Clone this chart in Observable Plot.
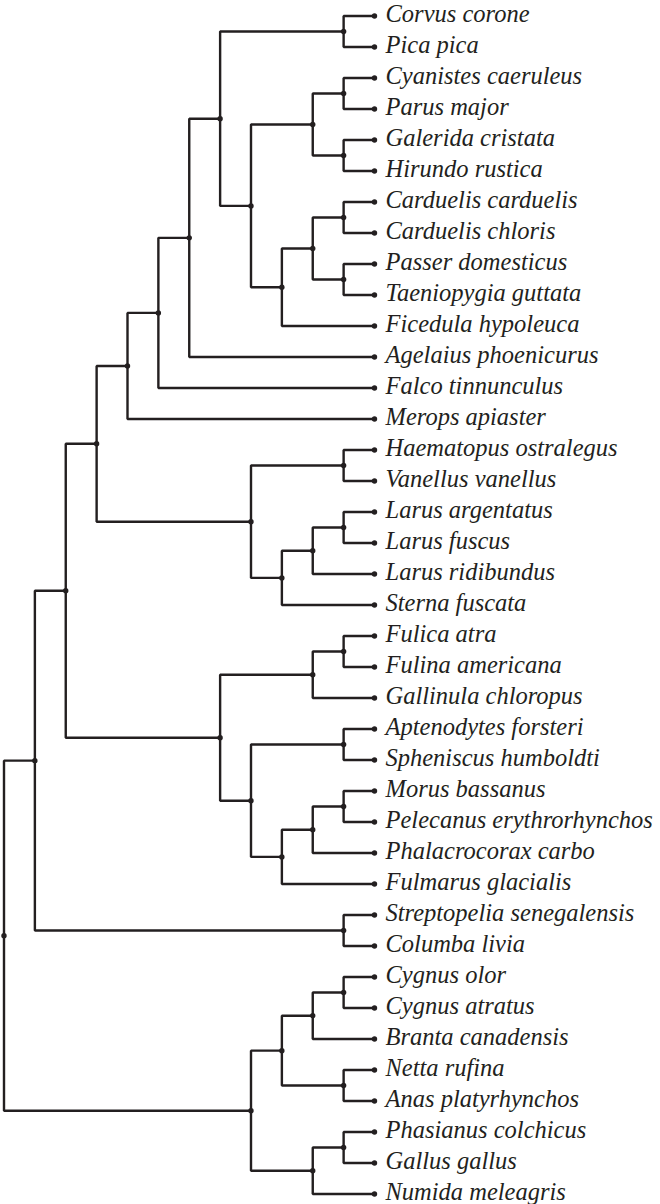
<!DOCTYPE html>
<html>
<head>
<meta charset="utf-8">
<script src="https://cdn.jsdelivr.net/npm/d3@7"></script>
<script src="https://cdn.jsdelivr.net/npm/@observablehq/plot@0.6"></script>
<style>
  html, body { margin: 0; padding: 0; background: #fff; }
  #chart svg { display: block; }
</style>
</head>
<body>
<div id="chart"></div>
<script>
// Tree topology (nested clades), leaves in plotted order top→bottom
const passerines = [
  ["Corvus corone", "Pica pica"],
  [
    [["Cyanistes caeruleus", "Parus major"], ["Galerida cristata", "Hirundo rustica"]],
    [[["Carduelis carduelis", "Carduelis chloris"], ["Passer domesticus", "Taeniopygia guttata"]], "Ficedula hypoleuca"]
  ]
];
const landbirds = [[[passerines, "Agelaius phoenicurus"], "Falco tinnunculus"], "Merops apiaster"];
const shorebirds = [
  ["Haematopus ostralegus", "Vanellus vanellus"],
  [[["Larus argentatus", "Larus fuscus"], "Larus ridibundus"], "Sterna fuscata"]
];
const waterbirds = [
  [["Fulica atra", "Fulina americana"], "Gallinula chloropus"],
  [["Aptenodytes forsteri", "Spheniscus humboldti"],
   [[["Morus bassanus", "Pelecanus erythrorhynchos"], "Phalacrocorax carbo"], "Fulmarus glacialis"]]
];
const pigeons = ["Streptopelia senegalensis", "Columba livia"];
const galloanserae = [
  [[["Cygnus olor", "Cygnus atratus"], "Branta canadensis"], ["Netta rufina", "Anas platyrhynchos"]],
  [["Phasianus colchicus", "Gallus gallus"], "Numida meleagris"]
];
const tree = [[[[landbirds, shorebirds], waterbirds], pigeons], galloanserae];

// Layout: x = height above leaves, y = leaf index; internal y = midpoint of children
const root = d3.hierarchy(tree, d => Array.isArray(d) ? d : null);
let leafIndex = 0;
root.eachAfter(n => {
  if (!n.children) { n.yy = leafIndex++; }
  else { n.yy = (n.children[0].yy + n.children[n.children.length - 1].yy) / 2; }
});
const nodes = root.descendants().map((n, i) => ({id: i, h: n.height, y: n.yy, leaf: !n.children, name: n.children ? null : n.data, node: n}));
const byNode = new Map(nodes.map(d => [d.node, d]));
const edgePts = [];
for (const d of nodes) {
  const p = d.node.parent;
  if (!p) continue;
  const pd = byNode.get(p);
  edgePts.push({e: d.id, h: pd.h, y: pd.y});
  edgePts.push({e: d.id, h: pd.h, y: d.y});
  edgePts.push({e: d.id, h: d.h, y: d.y});
}
const leaves = nodes.filter(d => d.leaf);

const ink = "#231f20";
const chart = Plot.plot({
  width: 660,
  height: 1204,
  marginLeft: 3.5,
  marginRight: 286,
  marginTop: 15.5,
  marginBottom: 10.5,
  x: {domain: [root.height, 0], axis: null},
  y: {domain: [leafIndex - 1, 0], axis: null},
  style: {background: "#fff", overflow: "visible"},
  marks: [
    Plot.line(edgePts, {x: "h", y: "y", z: "e", stroke: ink, strokeWidth: 2.4, strokeLinejoin: "miter", strokeLinecap: "square", curve: "linear"}),
    Plot.dot(nodes, {x: "h", y: "y", r: 2.7, fill: ink, stroke: "none"}),
    Plot.text(leaves, {x: "h", y: "y", text: "name", textAnchor: "start", dx: 11, dy: -1.5, fontSize: 24.5, fontStyle: "italic", fontFamily: "'Liberation Serif', 'Times New Roman', serif", fill: ink})
  ]
});
document.getElementById("chart").appendChild(chart);
</script>
</body>
</html>
